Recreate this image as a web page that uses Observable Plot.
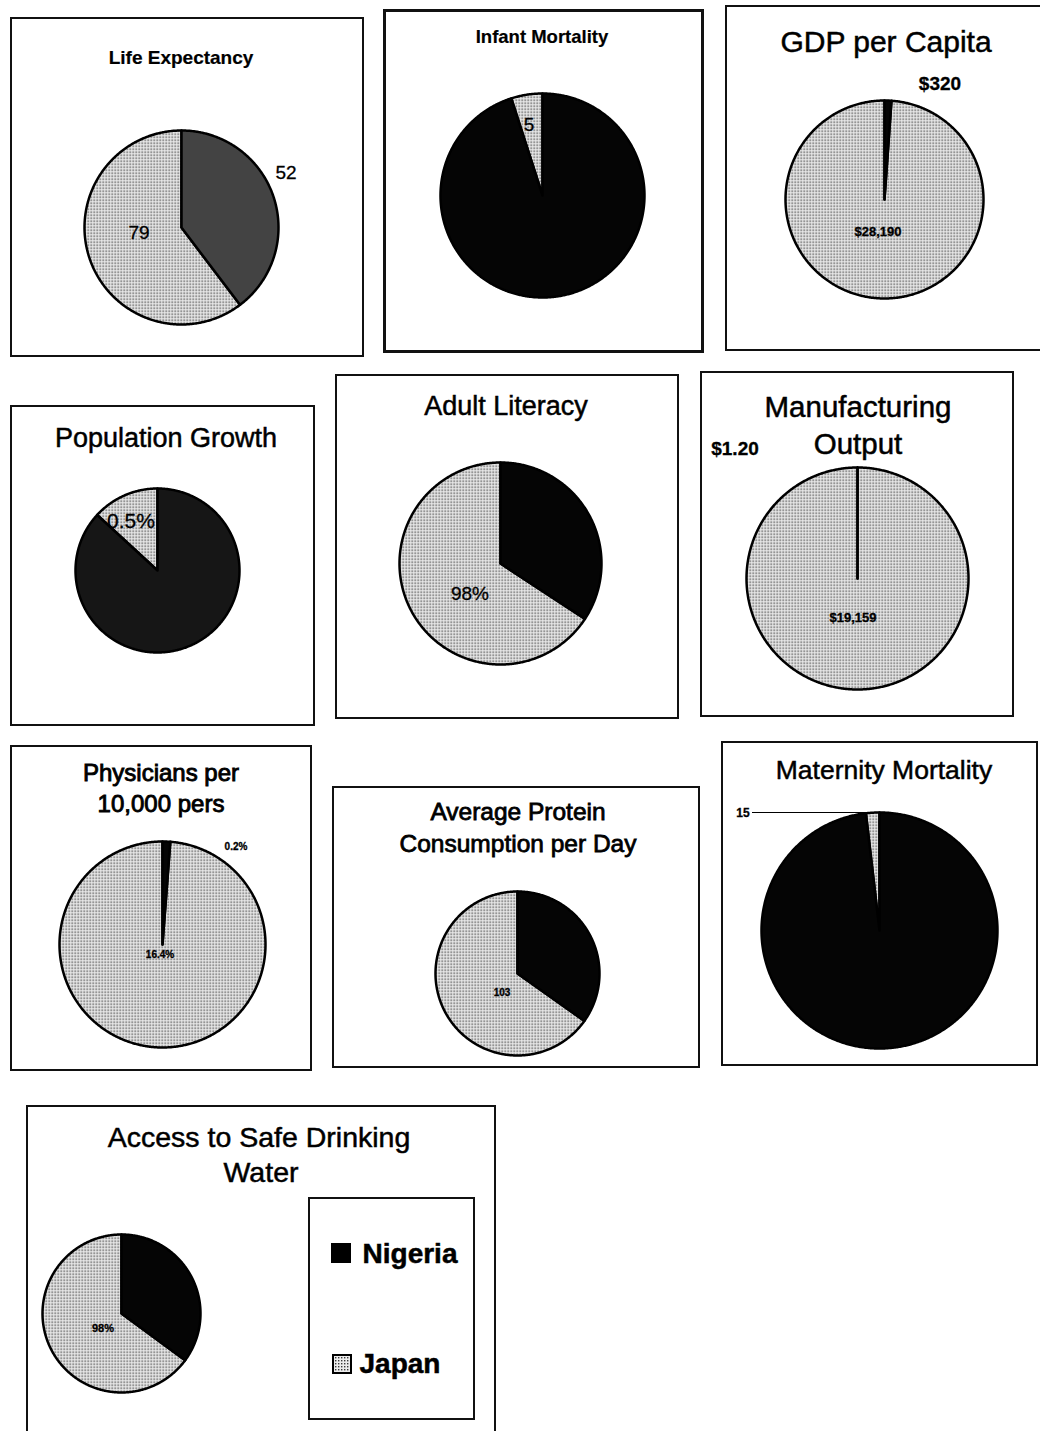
<!DOCTYPE html>
<html>
<head>
<meta charset="utf-8">
<script src="https://cdn.jsdelivr.net/npm/d3@7"></script>
<script src="https://cdn.jsdelivr.net/npm/@observablehq/plot@0.6"></script>
<style>
  html, body { margin: 0; padding: 0; background: #fff; }
  #page { position: relative; width: 1040px; height: 1431px; overflow: hidden; background: #fff;
          font-family: "Liberation Sans", Arial, sans-serif; color: #000; }
  .box { position: absolute; border: 2px solid #111; box-sizing: border-box; }
  .t { position: absolute; white-space: nowrap; line-height: 1; transform: translate(-50%, -50%);
       -webkit-text-stroke: 0.5px #000; }
  .pie { position: absolute; }
  .pie svg { display: block; overflow: visible; }
</style>
</head>
<body>
<svg width="0" height="0" style="position:absolute">
  <defs>
    <pattern id="dots" width="3" height="3" patternUnits="userSpaceOnUse">
      <rect width="3" height="3" fill="#ececec"></rect>
      <rect width="1.4" height="1.4" fill="#3a3a3a"></rect>
    </pattern>
  </defs>
</svg>
<div id="page"></div>
<script>
// ---------------- DATA ----------------
const countries = ["Nigeria", "Japan"];
const chartTitles = [
  "Life Expectancy", "Infant Mortality", "GDP per Capita", "Population Growth",
  "Adult Literacy", "Manufacturing Output", "Physicians per 10,000 pers",
  "Average Protein Consumption per Day", "Maternity Mortality", "Access to Safe Drinking Water"
];
const nigeriaValues = [52, 96, 320, 3.3, 51, 1.20, 0.2, 55, 800, 53];
const japanValues   = [79, 5, 28190, 0.5, 98, 19159, 16.4, 103, 15, 98];
const nigeriaLabels = ["52", null, "$320", null, null, "$1.20", "0.2%", null, null, null];
const japanLabels   = ["79", "5", "$28,190", "0.5%", "98%", "$19,159", "16.4%", "103", "15", "98%"];

// ---------------- LAYOUT (page pixels) ----------------
const layout = [
  {box:[10,17,364,357],  title:[["Life Expectancy",181,57]], ts:19, tb:true, tw:0.2, pie:[181,227,97], nfill:"#434343",
   nl:[286,172,19,false], jl:[139,232,19,false]},
  {box:[383,9,704,353],  title:[["Infant Mortality",542,37]], ts:18.5, tb:true, tw:0.2, pie:[542,195,102], nfill:"#050505", bw:3,
   jl:[529,124,19,false]},
  {box:[725,5,1046,351], title:[["GDP per Capita",886,42]], ts:30, pie:[884,199,99], nfill:"#050505",
   nl:[940,83,19,true], jl:[878,231,13,true]},
  {box:[10,405,315,726], title:[["Population Growth",166,438]], ts:27, pie:[157,570,82], nfill:"#161616",
   jl:[131,520,21,false]},
  {box:[335,374,679,719], title:[["Adult Literacy",506,406]], ts:27, pie:[500,563,101], nfill:"#050505",
   jl:[470,593,19,false]},
  {box:[700,371,1014,717], title:[["Manufacturing",858,407],["Output",858,444]], ts:29.5, pie:[857,578,111], nfill:"#050505",
   nl:[735,448,19,true], jl:[853,617,13,true]},
  {box:[10,745,312,1071], title:[["Physicians per",161,773],["10,000 pers",161,804]], ts:24, tw:0.9, pie:[162,944,103], nfill:"#050505",
   nl:[236,847,10,true], jl:[160,955,10,true]},
  {box:[332,786,700,1068], title:[["Average Protein",518,812],["Consumption per Day",518,844]], ts:24.5, tw:0.8, pie:[517,973,82], nfill:"#050505",
   jl:[502,993,10,true]},
  {box:[721,741,1038,1066], title:[["Maternity Mortality",884,770]], ts:26.5, pie:[879,930,118], nfill:"#050505",
   jl:[743,813,12,true], leader:[752,868,812]},
  {box:[26,1105,496,1440], title:[["Access to Safe Drinking",259,1137],["Water",261,1172]], ts:28.5, pie:[121,1313,79], nfill:"#050505",
   jl:[103,1328,11,true]}
];

const page = document.getElementById("page");

function addText(s, x, y, size, opts = {}) {
  const d = document.createElement("div");
  d.className = "t";
  d.textContent = s;
  d.style.left = x + "px";
  d.style.top = y + "px";
  d.style.fontSize = size + "px";
  if (opts.bold) d.style.fontWeight = "bold";
  if (opts.stroke != null) d.style.webkitTextStroke = opts.stroke + "px #000";
  if (opts.ls != null) d.style.letterSpacing = opts.ls + "px";
  page.appendChild(d);
  return d;
}

function wedgePoints(values) {
  const arcs = d3.pie().sort(null).value(d => d)(values);
  const pts = [];
  arcs.forEach((a, k) => {
    const n = Math.max(2, Math.ceil((a.endAngle - a.startAngle) / (Math.PI / 360)));
    pts.push({country: countries[k], x: 0, y: 0});
    for (let s = 0; s <= n; s++) {
      const ang = a.startAngle + (a.endAngle - a.startAngle) * s / n;
      pts.push({country: countries[k], x: Math.sin(ang), y: Math.cos(ang)});
    }
    pts.push({country: countries[k], x: 0, y: 0});
  });
  return pts;
}

chartTitles.forEach((title, i) => {
  const L = layout[i];
  // panel box
  const b = document.createElement("div");
  b.className = "box";
  b.style.left = L.box[0] + "px";
  b.style.top = L.box[1] + "px";
  b.style.width = (L.box[2] - L.box[0]) + "px";
  b.style.height = (L.box[3] - L.box[1]) + "px";
  if (L.bw) b.style.borderWidth = L.bw + "px";
  page.appendChild(b);

  // title lines
  L.title.forEach(([s, x, y]) => addText(s, x, y, L.ts, {bold: L.tb, stroke: L.tw != null ? L.tw : 0.5, ls: L.ls}));

  // pie
  const [cx, cy, r] = L.pie;
  const pad = 3;
  const pts = wedgePoints([nigeriaValues[i], japanValues[i]]);
  const plot = Plot.plot({
    width: 2 * r + 2 * pad,
    height: 2 * r + 2 * pad,
    margin: pad,
    x: {domain: [-1, 1], axis: null},
    y: {domain: [-1, 1], axis: null},
    marks: [
      Plot.line(pts.filter(d => d.country === "Japan"), {
        x: "x", y: "y", z: "country", fill: "url(#dots)", stroke: "#000",
        strokeWidth: 2.5, strokeLinejoin: "round", curve: "linear"
      }),
      Plot.line(pts.filter(d => d.country === "Nigeria"), {
        x: "x", y: "y", z: "country", fill: L.nfill, stroke: "#000",
        strokeWidth: 2.5, strokeLinejoin: "round", curve: "linear"
      })
    ]
  });
  const wrap = document.createElement("div");
  wrap.className = "pie";
  wrap.style.left = (cx - r - pad) + "px";
  wrap.style.top = (cy - r - pad) + "px";
  wrap.appendChild(plot);
  page.appendChild(wrap);

  // value labels
  if (L.nl && nigeriaLabels[i]) addText(nigeriaLabels[i], L.nl[0], L.nl[1], L.nl[2], {bold: L.nl[3], stroke: 0.3});
  if (L.jl && japanLabels[i]) addText(japanLabels[i], L.jl[0], L.jl[1], L.jl[2], {bold: L.jl[3], stroke: 0.3});
  if (L.leader) {
    const ln = document.createElement("div");
    ln.style.cssText = `position:absolute;left:${L.leader[0]}px;top:${L.leader[2]}px;width:${L.leader[1]-L.leader[0]}px;height:0;border-top:1.5px solid #000;`;
    page.appendChild(ln);
  }
});

// legend
const lg = document.createElement("div");
lg.className = "box";
lg.style.cssText += "left:308px;top:1197px;width:167px;height:223px;";
page.appendChild(lg);
const sq1 = document.createElement("div");
sq1.style.cssText = "position:absolute;left:331px;top:1243px;width:20px;height:20px;background:#000;";
page.appendChild(sq1);
addText(countries[0], 410, 1254, 28, {bold: true, stroke: 0.5});
const sq2 = document.createElementNS("http://www.w3.org/2000/svg", "svg");
sq2.setAttribute("width", 20); sq2.setAttribute("height", 20);
sq2.style.cssText = "position:absolute;left:332px;top:1354px;";
sq2.innerHTML = '<rect x="1" y="1" width="18" height="18" fill="url(#dots)" stroke="#000" stroke-width="2"></rect>';
page.appendChild(sq2);
addText(countries[1], 400, 1364, 28, {bold: true, stroke: 0.5});
</script>
</body>
</html>
